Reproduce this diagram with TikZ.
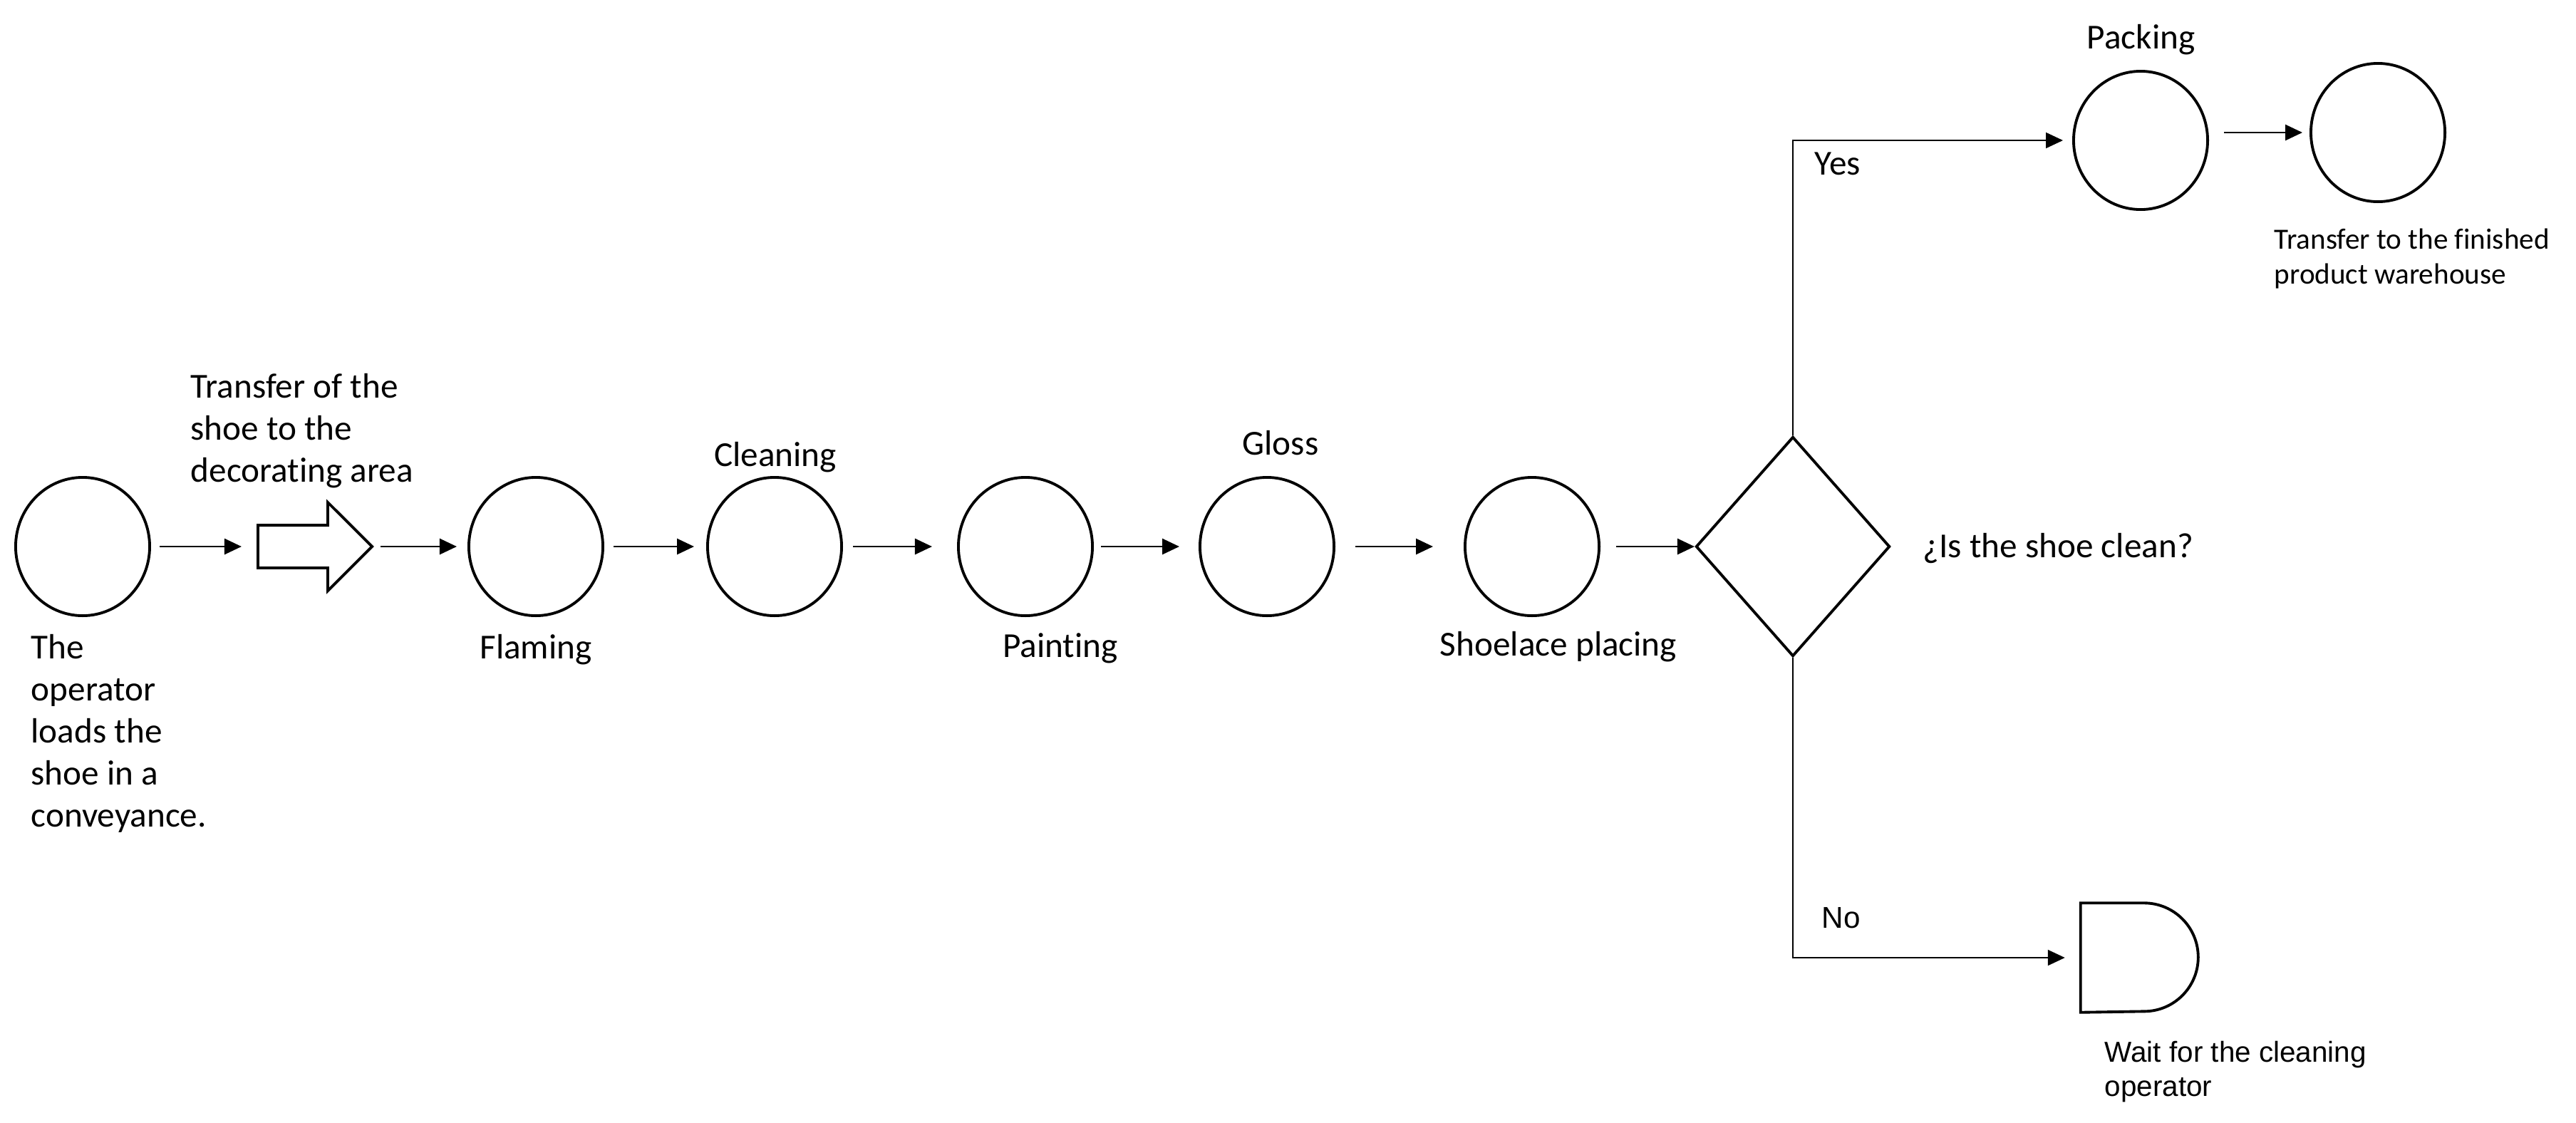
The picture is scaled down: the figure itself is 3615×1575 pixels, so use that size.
\documentclass[tikz,border=0pt]{standalone}
\usepackage{fontspec}
\setmainfont{Carlito}[Ligatures=NoCommon]
\newfontfamily\arialfont{Liberation Sans}
\usetikzlibrary{shapes.geometric}
\usetikzlibrary{shapes.arrows}
\usetikzlibrary{arrows.meta}

\begin{document}
\begin{tikzpicture}[x=0.01cm, y=0.01cm,
    op/.style={draw, ellipse, line width=1.1pt, minimum width=1.88cm, minimum height=1.94cm, inner sep=0},
    flow/.style={-{Triangle[length=0.24cm, width=0.22cm]}, line width=0.8pt},
    branch/.style={-{Triangle[length=0.24cm, width=0.22cm]}, line width=0.6pt},
    lbl/.style={inner sep=0, font=\fontsize{14}{16.8}\selectfont, align=left},
    small/.style={inner sep=0, font=\fontsize{11.7}{13.7}\selectfont, align=left},
    arial/.style={inner sep=0, font=\arialfont\fontsize{11.5}{13.5}\selectfont, align=left}]
  \useasboundingbox (0,0) rectangle (3615,-1575);
  % operations
  \foreach \n/\x in {load/116, flam/752, clean/1087, paint/1439, gloss/1778, lace/2150}
    \node[op] (\n) at (\x,-767) {};
  \node[op] (pack) at (3004,-197) {};
  \node[op] (store) at (3337,-186) {};
  % transport, decision, delay
  \node[draw, single arrow, line width=1.1pt, minimum height=1.6cm, single arrow head extend=0.32cm,
        inner xsep=0, inner ysep=0.28cm, anchor=tail] (move) at (360,-767) {};
  \node[draw, diamond, line width=1.1pt, minimum width=2.72cm, minimum height=3.08cm, inner sep=0] (check) at (2516,-767) {};
  \node[minimum width=1.65cm, minimum height=1.52cm, inner sep=0] (wait) at (3003,-1344) {};
  \draw[line width=1.1pt] (wait.north west) -- ++(89,0) arc[start angle=90, end angle=-90, radius=0.76cm] -- (wait.south west) -- cycle;

  \foreach \a/\b/\s/\t in {load/move/0.12cm/0.21cm, move/flam/0.09cm/0.15cm, flam/clean/0.13cm/0.17cm,
      clean/paint/0.14cm/0.35cm, paint/gloss/0.10cm/0.27cm, gloss/lace/0.28cm/0.43cm, lace/check/0.22cm/0cm}
    \draw[flow, shorten <=\s, shorten >=\t] (\a) -- (\b);
  \draw[flow, shorten <=0.21cm, shorten >=0.10cm] (pack.east |- store.west) -- (store.west);
  \draw[branch, shorten >=0.13cm] (check.north) |- (pack.west);
  \draw[branch, shorten >=0.22cm] (check.south) |- (wait.west);

  % labels (base = last line)
  \node[lbl, anchor=base west] (loadtxt) at (43,-1160.5) {The\\operator\\loads the\\shoe in a\\conveyance.};
  \node[lbl, anchor=base west] (movetxt) at (267,-676.5) {Transfer of the\\shoe to the\\decorating area};
  \node[lbl, anchor=base] (flamtxt) at (752,-924) {Flaming};
  \node[lbl, anchor=base] (cleantxt) at (1088,-654) {Cleaning};
  \node[lbl, anchor=base] (painttxt) at (1488,-922) {Painting};
  \node[lbl, anchor=base] (glosstxt) at (1797,-638) {Gloss};
  \node[lbl, anchor=base] (lacetxt) at (2187,-920) {Shoelace placing};
  \node[lbl, anchor=base west] (checktxt) at (2698,-782) {¿Is the shoe clean?};
  \node[lbl, anchor=base] (packtxt) at (3004.5,-68) {Packing};
  \node[lbl, anchor=base west] (yestxt) at (2546,-245) {Yes};
  \node[arial, anchor=base west, font=\arialfont\fontsize{12}{14}\selectfont] (notxt) at (2556,-1302) {No};
  \node[small, anchor=base west] (storetxt) at (3191,-398) {Transfer to the finished\\product warehouse};
  \node[arial, anchor=base west] (waittxt) at (2953,-1538) {Wait for the cleaning\\operator};
\end{tikzpicture}
\end{document}
